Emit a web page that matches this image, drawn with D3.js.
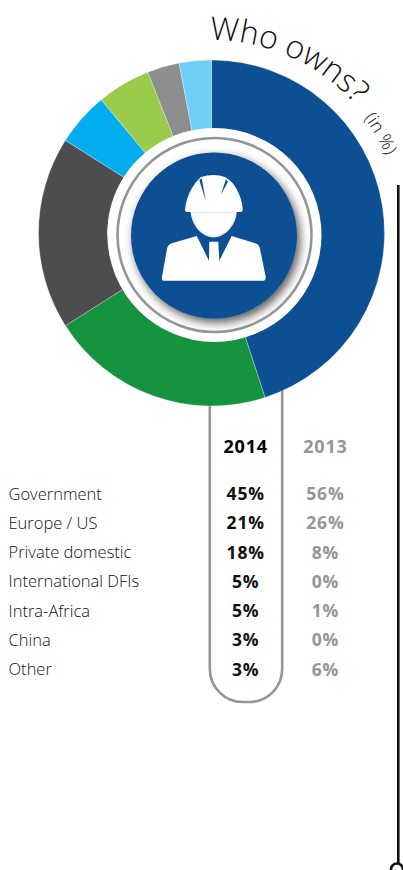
<!DOCTYPE html>
<html><head><meta charset="utf-8">
<script src="https://cdn.jsdelivr.net/npm/d3@7"></script>
<style>html,body{margin:0;padding:0;background:#fff}svg{display:block}text{font-family:"Open Sans","Noto Sans",sans-serif}</style>
</head><body><svg id="c" width="403" height="870"></svg>
<script>
const categories=["Government","Europe / US","Private domestic","International DFIs","Intra-Africa","China","Other"];
const values2014=[45,21,18,5,5,3,3];
const values2013=[56,26,8,0,1,0,6];
const sliceColors=["#0d4f93","#15933f","#4d4d4f","#00aeef","#9bcb4a","#8c8e90","#6dcff6"];
const yearLabels=["2014","2013"];
const title="Who owns?";
const subtitle="(in %)";

const svg=d3.select("#c");
const defs=svg.append("defs");
const cx=211.5,cy=233;
const f=defs.append("filter").attr("id","sh").attr("x","-30%").attr("y","-30%").attr("width","160%").attr("height","160%");
f.append("feDropShadow").attr("dx",3).attr("dy",4).attr("stdDeviation",5).attr("flood-color","#000").attr("flood-opacity",0.65);
defs.append("clipPath").attr("id","ringClip").append("circle").attr("cx",214.5).attr("cy",235).attr("r",96);
// arcs that carry the rotated title text
const polar=(r,deg)=>{const a=deg*Math.PI/180;return [cx+r*Math.sin(a),cy-r*Math.cos(a)];};
const textArc=(r,a0,a1)=>{const p=polar(r,a0),q=polar(r,a1);return `M${p[0]} ${p[1]}A${r} ${r} 0 0 1 ${q[0]} ${q[1]}`;};
defs.append("path").attr("id","tp").attr("d",textArc(193,-0.5,65));
defs.append("path").attr("id","tp2").attr("d",textArc(191,53,85));

// Pill behind donut
svg.append("path").attr("d","M209.8 380 V669 A33 33 0 0 0 242.8 702 H249.2 A33 33 0 0 0 282.2 669 V380")
  .attr("fill","none").attr("stroke","#939598").attr("stroke-width",2.6);

// Donut
const pie=d3.pie().sort(null).value(d=>d);
const arc=d3.arc().innerRadius(104).outerRadius(173);
const g=svg.append("g").attr("transform",`translate(${cx},${cy})`);
g.selectAll("path").data(pie(values2014)).join("path").attr("d",arc)
  .attr("fill",(d,i)=>sliceColors[i]).attr("stroke","#fff").attr("stroke-width",0.3);

// Centre
svg.append("circle").attr("cx",214.5).attr("cy",235).attr("r",107).attr("fill","#fff");
const inner=svg.append("g").attr("clip-path","url(#ringClip)");
inner.append("circle").attr("cx",214).attr("cy",235.5).attr("r",83).attr("fill","#0d4f93").attr("filter","url(#sh)");
svg.append("circle").attr("cx",214.5).attr("cy",235).attr("r",97).attr("fill","none").attr("stroke","#939598").attr("stroke-width",2.6);

// Icon
const icon=svg.append("g").attr("fill","#fff");
icon.append("path").attr("d","M201 177 Q214 173 225 177 Q232 181 236 188 Q242 198 242.8 210 Q242.5 212 239 212 L188 212 Q185 212 185 210 Q186 198 192 188 Q196 181 201 177 Z");
icon.append("path").attr("d","M199.3 180 L201.7 178.3 L205.7 200.7 Z M226 179.3 L228 181.7 L220.7 195 Z").attr("fill","#0d4f93");
icon.append("path").attr("d","M190.7 212 H236.7 C236 224 226 237.3 213.5 237.3 C201 237.3 191.4 224 190.7 212 Z");
icon.append("path").attr("d","M192 212.8 H235 M192 215 C194 226 203 236 213.5 236 C224 236 233 226 235 215").attr("fill","none").attr("stroke","#b9cfe6").attr("stroke-width",0.5);
icon.append("path").attr("d","M196.7 236 L209 260.7 L209.3 241.7 H218.3 L219.3 260.7 L231.7 236 L256 243.5 Q259.5 245 260 249 L265.7 276.7 Q265.7 280.7 263.3 280.7 H163.5 Q161.5 280.7 162 276.7 L167 249 Q167.5 245 171 243.5 Z");

// Title
svg.append("text").attr("font-size",32).attr("font-weight",300).attr("fill","#111")
  .append("textPath").attr("href","#tp").text(title);
svg.append("text").attr("font-size",18).attr("font-weight",300).attr("fill","#111")
  .append("textPath").attr("href","#tp2").text(subtitle);

// Black line
svg.append("path").attr("d","M398.3 185 V863").attr("stroke","#111").attr("stroke-width",2.6).attr("fill","none");
svg.append("circle").attr("cx",397).attr("cy",869.5).attr("r",6).attr("fill","#fff").attr("stroke","#111").attr("stroke-width",2.6);

// Table
const y=d3.scalePoint().domain(categories).range([499.5,675]);
const colX=d3.scalePoint().domain(yearLabels).range([245.7,325.4]);
const hdr=svg.append("g").attr("font-size",18).attr("font-weight",700).attr("letter-spacing",0.8).attr("text-anchor","middle");
hdr.selectAll("text").data(yearLabels).join("text").attr("x",d=>colX(d)).attr("y",453)
  .attr("fill",(d,i)=>i?"#939598":"#000").text(d=>d);
svg.append("g").attr("font-size",16.5).attr("font-weight",300).attr("fill","#111").selectAll("text").data(categories).join("text")
  .attr("x",8.5).attr("y",d=>y(d)).text(d=>d);
const col=(vals,key,fill)=>svg.append("g").attr("font-size",17.5).attr("font-weight",700).attr("letter-spacing",0.8).attr("text-anchor","middle").attr("fill",fill)
  .selectAll("text").data(vals).join("text").attr("x",colX(key)).attr("y",(d,i)=>y(categories[i])+0.5).text(d=>d+"%");
col(values2014,"2014","#111");
col(values2013,"2013","#939598");
</script></body></html>
